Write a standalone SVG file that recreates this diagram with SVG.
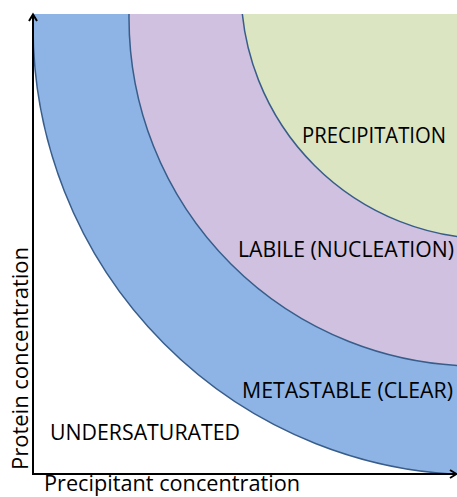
<svg xmlns="http://www.w3.org/2000/svg" width="457" height="497" viewBox="0 0 457 497">
<style>
.lbl{font-family:"Open Sans","Liberation Sans",sans-serif;font-size:21px;fill:#000}
.zone{stroke:#385D8A;stroke-width:1.5}
.axis{stroke:#000;stroke-width:2;fill:none}
</style>
<defs>
<clipPath id="plot"><rect x="33" y="14" width="424" height="460"/></clipPath>
</defs>
<rect width="457" height="497" fill="#fff"/>
<g clip-path="url(#plot)">
<g id="metastable"><ellipse class="zone" cx="480" cy="26" rx="447" ry="449" fill="#8EB4E6"/></g>
<g id="labile"><circle class="zone" cx="477" cy="18" r="348" fill="#CFC1DF"/></g>
<g id="precipitation"><circle class="zone" cx="492" cy="-12" r="251" fill="#DCE5C1"/></g>
</g>
<g id="axes">
<path class="axis" d="M33,474 V15 M29,21 L33,14.5 L37,21"/>
<path class="axis" d="M32,474 H456 M450,470 L456.5,474 L450,478"/>
</g>
<g id="labels">
<text class="lbl" x="302" y="143" textLength="144" lengthAdjust="spacingAndGlyphs">PRECIPITATION</text>
<text class="lbl" x="238" y="257" textLength="216" lengthAdjust="spacingAndGlyphs">LABILE (NUCLEATION)</text>
<text class="lbl" x="242" y="398" textLength="211" lengthAdjust="spacingAndGlyphs">METASTABLE (CLEAR)</text>
<text class="lbl" x="50" y="440" textLength="190" lengthAdjust="spacingAndGlyphs">UNDERSATURATED</text>
<text class="lbl" x="44" y="491" textLength="256" lengthAdjust="spacingAndGlyphs">Precipitant concentration</text>
<text class="lbl" x="28" y="470" transform="rotate(-90 28 470)" textLength="223" lengthAdjust="spacingAndGlyphs">Protein concentration</text>
</g>
</svg>
